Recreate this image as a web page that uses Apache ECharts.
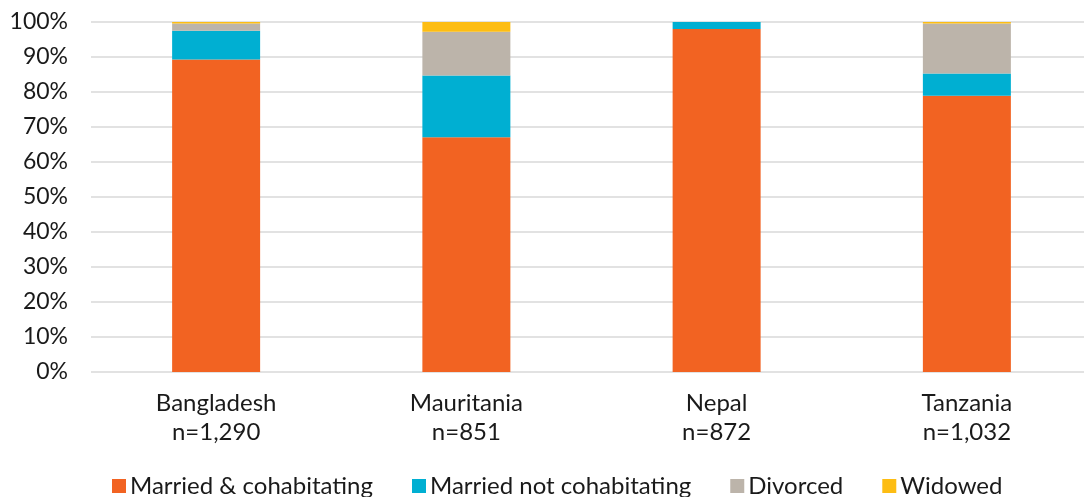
<!DOCTYPE html>
<html>
<head>
<meta charset="utf-8">
<script src="https://cdn.jsdelivr.net/npm/echarts@6/dist/echarts.min.js"></script>
<style>
  html, body { margin: 0; padding: 0; background: #fff; overflow: hidden; }
  #chart { width: 1092px; height: 497px; }
</style>
</head>
<body>
<div id="chart"></div>
<script>
// categories and sample sizes
var countries = ['Bangladesh', 'Mauritania', 'Nepal', 'Tanzania'];
var sampleSizes = ['n=1,290', 'n=851', 'n=872', 'n=1,032'];

// shares in %
var marriedCohab = [89.3, 67.1, 98.0, 78.9];
var marriedNotCohab = [8.2, 17.6, 2.0, 6.4];
var divorced = [2.1, 12.5, 0, 14.3];
var widowed = [0.4, 2.8, 0, 0.4];

var yTicks = [0, 10, 20, 30, 40, 50, 60, 70, 80, 90, 100];

var font = 'Lato, "Open Sans", sans-serif';
var myChart = echarts.init(document.getElementById('chart'));

function barSeries(name, data, color) {
    return {
        name: name,
        type: 'bar',
        stack: 'total',
        barWidth: 88,
        data: data,
        itemStyle: { color: color },
        emphasis: { disabled: true }
    };
}

var option = {
    animation: false,
    textStyle: { fontFamily: font },
    // plot area runs a few px past the right edge of the window, as in the original
    grid: { left: 91, top: 22, right: 0, height: 350, containLabel: false },
    legend: {
        top: 469,
        left: 107,
        itemWidth: 14,
        itemHeight: 14,
        itemGap: 39,
        icon: 'rect',
        textStyle: { fontSize: 24, color: '#1a1a1a', fontFamily: font, padding: [0, 0, 0, -1] },
        data: ['Married & cohabitating', 'Married not cohabitating', 'Divorced', 'Widowed']
    },
    xAxis: {
        type: 'category',
        data: countries,
        axisTick: { show: false },
        axisLine: { show: false },
        axisLabel: {
            margin: 17,
            fontSize: 24,
            lineHeight: 29,
            color: '#1a1a1a',
            formatter: function (v, i) { return v + '\n' + sampleSizes[i]; }
        }
    },
    yAxis: {
        type: 'value',
        min: yTicks[0],
        max: yTicks[yTicks.length - 1],
        interval: 10,
        axisLine: { show: false },
        axisTick: { show: false },
        axisLabel: { margin: 23, fontSize: 23, color: '#1a1a1a', formatter: '{value}%' },
        splitLine: { lineStyle: { color: '#d9d9d9', width: 1.5 } }
    },
    series: [
        barSeries('Married & cohabitating', marriedCohab, '#f26322'),
        barSeries('Married not cohabitating', marriedNotCohab, '#00afd2'),
        barSeries('Divorced', divorced, '#bcb4aa'),
        barSeries('Widowed', widowed, '#fdbd13')
    ]
};

myChart.setOption(option);
window.addEventListener('resize', function () {
    myChart.resize();
});
</script>
</body>
</html>
